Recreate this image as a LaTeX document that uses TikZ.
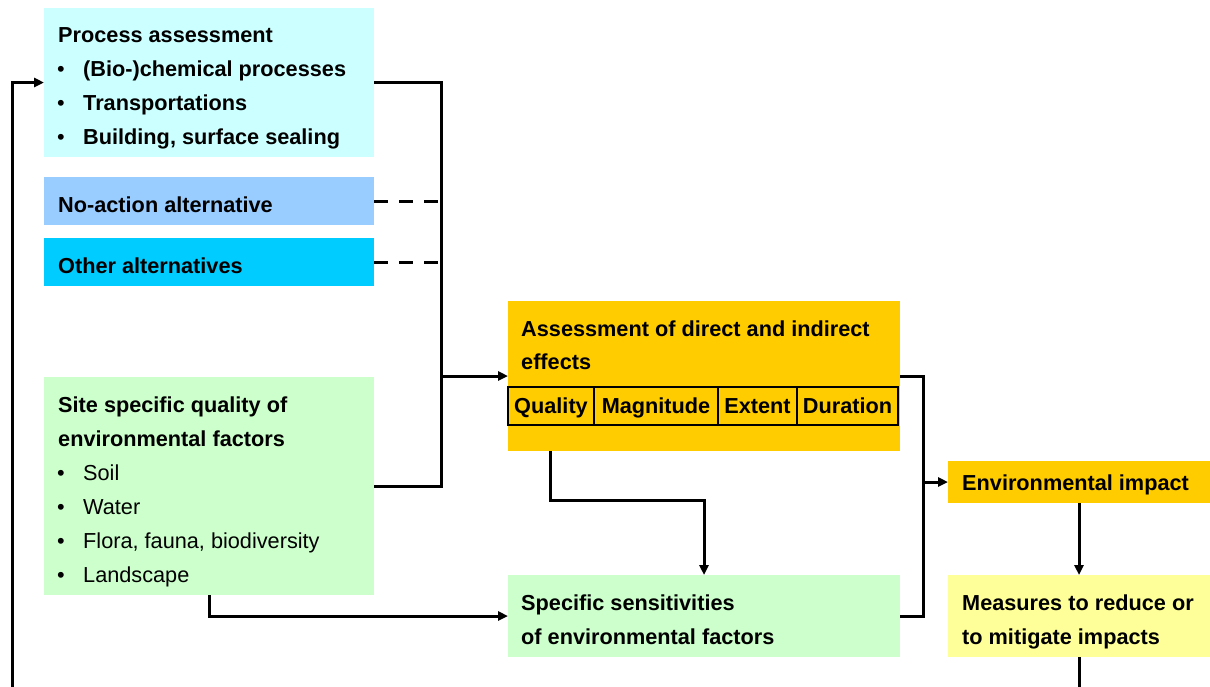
\documentclass[tikz,border=0pt]{standalone}
\usepackage{fontspec}
\setmainfont{Liberation Sans}
\usetikzlibrary{arrows.meta,calc}
\definecolor{cproc}{HTML}{CCFFFF}
\definecolor{cnoact}{HTML}{99CCFF}
\definecolor{cother}{HTML}{00CCFF}
\definecolor{cgreen}{HTML}{CCFFCC}
\definecolor{corange}{HTML}{FFCC00}
\definecolor{cyell}{HTML}{FFFF99}
\begin{document}
\begin{tikzpicture}[x=1pt,y=-1pt,
  box/.style={inner sep=0pt, outer sep=0pt, anchor=north west},
  txt/.style={inner sep=0pt, anchor=base west, font=\fontsize{21.7}{26}\selectfont\bfseries},
  ntxt/.style={inner sep=0pt, anchor=base west, font=\fontsize{21.7}{26}\selectfont},
  conn/.style={line width=3pt},
  arr/.style={conn, -{Triangle[length=10pt,width=9pt]}},
  dsh/.style={conn, dash pattern=on 14pt off 11pt},
  cell/.style={draw, line width=1.2pt, inner sep=0pt, outer sep=0pt, minimum height=38pt, anchor=north west, font=\fontsize{21.7}{26}\selectfont\bfseries, text height=18pt, text depth=4pt}]
\useasboundingbox (0,0) rectangle (1210,686);
\clip (0,0) rectangle (1210,686);

% boxes
\node[box, fill=cproc, minimum width=330pt, minimum height=149pt] (proc) at (44,8) {};
\node[box, fill=cnoact, minimum width=330pt, minimum height=48pt] (noact) at (44,177) {};
\node[box, fill=cother, minimum width=330pt, minimum height=48pt] (other) at (44,238) {};
\node[box, fill=cgreen, minimum width=330pt, minimum height=218pt] (site) at (44,377) {};
\node[box, fill=corange, minimum width=392pt, minimum height=150pt] (assess) at (508,301) {};
\node[box, fill=cgreen, minimum width=392pt, minimum height=82pt] (sens) at (508,575) {};
\node[box, fill=corange, minimum width=262pt, minimum height=42pt] (env) at (948,461) {};
\node[box, fill=cyell, minimum width=262pt, minimum height=82pt] (meas) at (948,575) {};

% process texts
\node[txt] (p1) at (58,42) {Process assessment};
\node[ntxt] (pb2) at (57,76) {•};
\node[txt] (p2) at (83,76) {(Bio-)chemical processes};
\node[ntxt] (pb3) at (57,110) {•};
\node[txt] (p3) at (83,110) {Transportations};
\node[ntxt] (pb4) at (57,144) {•};
\node[txt] (p4) at (83,144) {Building, surface sealing};

\node[txt] (n1) at (58,212) {No-action alternative};
\node[txt] (o1) at (58,273) {Other alternatives};

% site texts
\node[txt] (s1) at (58,412) {Site specific quality of};
\node[txt] (s2) at (58,446) {environmental factors};
\node[ntxt] (sb3) at (57,480) {•};
\node[ntxt] (s3) at (83,480) {Soil};
\node[ntxt] (sb4) at (57,514) {•};
\node[ntxt] (s4) at (83,514) {Water};
\node[ntxt] (sb5) at (57,548) {•};
\node[ntxt] (s5) at (83,548) {Flora, fauna, biodiversity};
\node[ntxt] (sb6) at (57,582) {•};
\node[ntxt] (s6) at (83,582) {Landscape};

% assessment texts
\node[txt] (a1) at (521,336) {Assessment of direct and indirect};
\node[txt] (a2) at (521,369) {effects};
\node[cell, minimum width=86pt] (cq) at (508,387) {Quality};
\node[cell, minimum width=124pt] (cm) at (594,387) {Magnitude};
\node[cell, minimum width=79pt] (ce) at (718,387) {Extent};
\node[cell, minimum width=101pt] (cd) at (797,387) {Duration};

\node[txt] (e1) at (962,490) {Environmental impact};
\node[txt] (m1) at (962,610) {Measures to reduce or};
\node[txt] (m2) at (962,644) {to mitigate impacts};
\node[txt] (t1) at (521,610) {Specific sensitivities};
\node[txt] (t2) at (521,644) {of environmental factors};

% connectors
\coordinate (jx) at (441,376);
\draw[conn] (proc.east) -| (jx);
\draw[conn] (site.east) -| (jx);
\draw[arr] (jx) -- (assess.west);
\draw[dsh] (noact.east) -- (noact.east -| jx);
\draw[dsh] (other.east) -- (other.east -| jx);
\draw[arr] (site.south) |- (sens.west);
\draw[arr] (550,451) -- (550,500) -| (sens.north);
\coordinate (rx) at (923,376);
\draw[conn] (assess.east) -| (rx) |- (sens.east);
\draw[arr] (env.west -| rx) -- (env.west);
\draw[arr] (env.south) -- (meas.north);
\draw[arr] (meas.south) -- (meas.south |- 0,700) -- (12,700) |- (proc.west);
\end{tikzpicture}
\end{document}
